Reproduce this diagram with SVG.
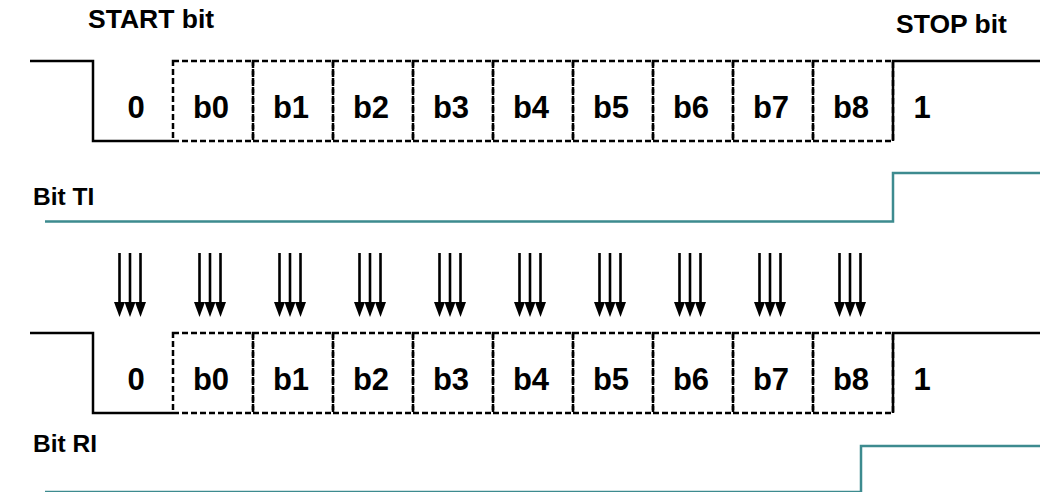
<svg xmlns="http://www.w3.org/2000/svg" width="1040" height="492" viewBox="0 0 1040 492">
<style>
text{font-family:"Liberation Sans",Arial,sans-serif;font-weight:bold;fill:#000}
.hdr{font-size:26.5px}
.lbl{font-size:24.5px}
.bit{font-size:31px;text-anchor:middle}
.sig{fill:none;stroke:#000;stroke-width:2.5}
.box{fill:none;stroke:#000;stroke-width:2.5;stroke-dasharray:6 3}
.flag{fill:none;stroke:#3d8b8f;stroke-width:2.5}
.arr{stroke:#000;stroke-width:2.6}
</style>
<defs>
<g id="tri">
<line class="arr" x1="-10.5" y1="253" x2="-10.5" y2="304"/>
<line class="arr" x1="0" y1="253" x2="0" y2="304"/>
<line class="arr" x1="10.5" y1="253" x2="10.5" y2="304"/>
<polygon points="-16,302 -5,302 -10.5,317"/>
<polygon points="-5.5,302 5.5,302 0,317"/>
<polygon points="5,302 16,302 10.5,317"/>
</g>
</defs>
<rect width="1040" height="492" fill="#fff"/>

<g id="labels">
<text class="hdr" x="88" y="28">START bit</text>
<text class="hdr" x="896" y="33">STOP bit</text>
<text class="lbl" x="33" y="205">Bit TI</text>
<text class="lbl" x="33" y="452">Bit RI</text>
</g>

<g id="frame-tx">
<path class="sig" d="M30,61 H93 V141 H173"/>
<path class="sig" d="M893,141 V61 H1040"/>
<rect class="box" x="173" y="61" width="80" height="80"/>
<rect class="box" x="253" y="61" width="80" height="80"/>
<rect class="box" x="333" y="61" width="80" height="80"/>
<rect class="box" x="413" y="61" width="80" height="80"/>
<rect class="box" x="493" y="61" width="80" height="80"/>
<rect class="box" x="573" y="61" width="80" height="80"/>
<rect class="box" x="653" y="61" width="80" height="80"/>
<rect class="box" x="733" y="61" width="80" height="80"/>
<rect class="box" x="813" y="61" width="80" height="80"/>
<text class="bit" x="136" y="118">0</text>
<text class="bit" x="211" y="118">b0</text>
<text class="bit" x="291" y="118">b1</text>
<text class="bit" x="371" y="118">b2</text>
<text class="bit" x="451" y="118">b3</text>
<text class="bit" x="531" y="118">b4</text>
<text class="bit" x="611" y="118">b5</text>
<text class="bit" x="691" y="118">b6</text>
<text class="bit" x="771" y="118">b7</text>
<text class="bit" x="851" y="118">b8</text>
<text class="bit" x="922" y="118">1</text>
</g>

<g id="flag-ti">
<path class="flag" d="M45,221.5 H893 V173 H1040"/>
</g>

<g id="connectors">
<use href="#tri" x="130"/>
<use href="#tri" x="210"/>
<use href="#tri" x="290"/>
<use href="#tri" x="370"/>
<use href="#tri" x="450"/>
<use href="#tri" x="530"/>
<use href="#tri" x="610"/>
<use href="#tri" x="690"/>
<use href="#tri" x="770"/>
<use href="#tri" x="850"/>
</g>

<g id="frame-rx">
<path class="sig" d="M30,333 H93 V413 H173"/>
<path class="sig" d="M893,413 V333 H1040"/>
<rect class="box" x="173" y="333" width="80" height="80"/>
<rect class="box" x="253" y="333" width="80" height="80"/>
<rect class="box" x="333" y="333" width="80" height="80"/>
<rect class="box" x="413" y="333" width="80" height="80"/>
<rect class="box" x="493" y="333" width="80" height="80"/>
<rect class="box" x="573" y="333" width="80" height="80"/>
<rect class="box" x="653" y="333" width="80" height="80"/>
<rect class="box" x="733" y="333" width="80" height="80"/>
<rect class="box" x="813" y="333" width="80" height="80"/>
<text class="bit" x="136" y="390">0</text>
<text class="bit" x="211" y="390">b0</text>
<text class="bit" x="291" y="390">b1</text>
<text class="bit" x="371" y="390">b2</text>
<text class="bit" x="451" y="390">b3</text>
<text class="bit" x="531" y="390">b4</text>
<text class="bit" x="611" y="390">b5</text>
<text class="bit" x="691" y="390">b6</text>
<text class="bit" x="771" y="390">b7</text>
<text class="bit" x="851" y="390">b8</text>
<text class="bit" x="922" y="390">1</text>
</g>

<g id="flag-ri">
<path class="flag" d="M45,492 H861 V446 H1040"/>
</g>
</svg>
